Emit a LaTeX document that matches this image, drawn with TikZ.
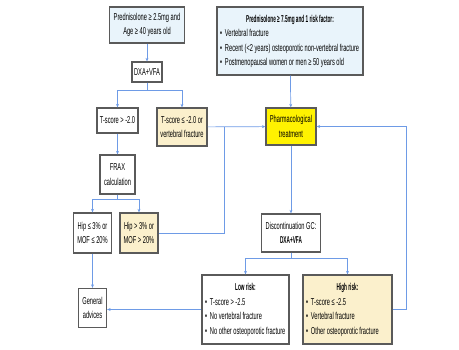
\documentclass[tikz,border=0pt]{standalone}
\usepackage{fontspec}
\setmainfont[FakeStretch=0.57, BoldFeatures={FakeStretch=0.47}]{Liberation Sans}
\usetikzlibrary{arrows.meta}

\definecolor{boxblue}{HTML}{E9F4FB}
\definecolor{boxtan}{HTML}{FBF0CC}
\definecolor{linkblue}{HTML}{6E9BE6}
\definecolor{boxedge}{HTML}{5A5A5A}

\newcommand{\itm}{\textbullet\hspace{3pt}}

\tikzset{
  box/.style={draw=boxedge, line width=1.3pt, fill=white, align=center,
    inner sep=1pt, font=\fontsize{10pt}{14.5pt}\selectfont},
  bluebox/.style={box, fill=boxblue},
  tanbox/.style={box, fill=boxtan},
  link/.style={draw=linkblue, line width=0.7pt},
  >={Stealth[length=3.5pt,width=3pt]}
}

\begin{document}
\begin{tikzpicture}[x=1pt,y=-1pt]
        \useasboundingbox (0,0) rectangle (459,349);

        \node (pred25)  [bluebox, minimum width=75pt, minimum height=36pt] at (147,25)
              {Prednisolone ≥ 2.5mg and\\Age ≥ 40 years old};
        \node (pred75)  [bluebox, minimum width=146pt, minimum height=68pt] at (290,41)
              {\begin{tabular}{@{}p{140pt}@{}}
                 \multicolumn{1}{c}{\textbf{Prednisolone ≥ 7.5mg and 1 risk factor:}}\\
                 \itm Vertebral fracture\\
                 \itm Recent (<2 years) osteoporotic non-vertebral fracture\\
                 \itm Postmenopausal women or men ≥ 50 years old
               \end{tabular}};
        \node (dxa)     [box, minimum width=30pt, minimum height=20pt] at (147,72) {DXA+VFA};

        \node (tgt)     [box, minimum width=41pt, minimum height=25pt] at (117.5,120.5) {T-score > -2.0};
        \node (tle)     [tanbox, minimum width=50pt, minimum height=38pt] at (182,127)
              {T-score ≤ -2.0 or\\vertebral fracture};
        \node (pharm)   [box, fill=yellow, minimum width=50pt, minimum height=37pt] at (291,126.5)
              {Pharmacological\\treatment};

        \node (frax)    [box, minimum width=35pt, minimum height=39pt] at (117.5,174.5) {FRAX\\calculation};
        \node (hiplow)  [box, minimum width=38pt, minimum height=40pt] at (92.5,233) {Hip ≤ 3\% or\\MOF ≤ 20\%};
        \node (hiphigh) [tanbox, minimum width=38pt, minimum height=40pt] at (139,233) {Hip > 3\% or\\MOF > 20\%};
        \node (advice)  [box, minimum width=28pt, minimum height=39pt] at (92.5,308) {General\\advices};

        \node (disc)    [box, minimum width=59pt, minimum height=38pt] at (291,233)
              {Discontinuation GC:\\\textbf{DXA+VFA}};
        \node (lowrisk) [box, minimum width=87pt, minimum height=69pt] at (245.5,309.5)
              {\begin{tabular}{@{}p{81pt}@{}}
                 \multicolumn{1}{c}{\textbf{Low risk:}}\\
                 \itm T-score > -2.5\\
                 \itm No vertebral fracture\\
                 \itm No other osteoporotic fracture
               \end{tabular}};
        \node (highrisk) [tanbox, minimum width=89pt, minimum height=69pt] at (347.5,309.5)
              {\begin{tabular}{@{}p{83pt}@{}}
                 \multicolumn{1}{c}{\textbf{High risk:}}\\
                 \itm T-score ≤ -2.5\\
                 \itm Vertebral fracture\\
                 \itm Other osteoporotic fracture
               \end{tabular}};

        \coordinate (join) at (224,127);

        \draw [link,->] (pred25) -- (dxa);
        \draw [link,->] (dxa.south) -- ++(0,8) -| (tgt.north);
        \draw [link,->] (dxa.south) -- ++(0,8) -| (tle.north);
        \draw [link,->] (tgt) -- (frax);
        \draw [link,->] (frax.south) -- ++(0,5) -| (hiplow.north);
        \draw [link,->] (frax.south) -- ++(0,5) -| (hiphigh.north);
        \draw [link,->] (hiplow) -- (advice);

        \draw [link,->] (tle) -- (pharm);
        \draw [link]    (hiphigh.east) -| (join);
        \draw [link,->] (pred75) -- (pharm);
        \draw [link,->] (pharm) -- (disc);

        \draw [link,->] (disc.south) -- ++(0,6) -| (lowrisk.north);
        \draw [link,->] (disc.south) -- ++(0,6) -| (highrisk.north);
        \draw [link,->] (lowrisk.west) -- (lowrisk.west -| advice.east);
        \draw [link,->] (highrisk.east) -- ++(14,0) |- (pharm.east);
      \end{tikzpicture}
\end{document}
